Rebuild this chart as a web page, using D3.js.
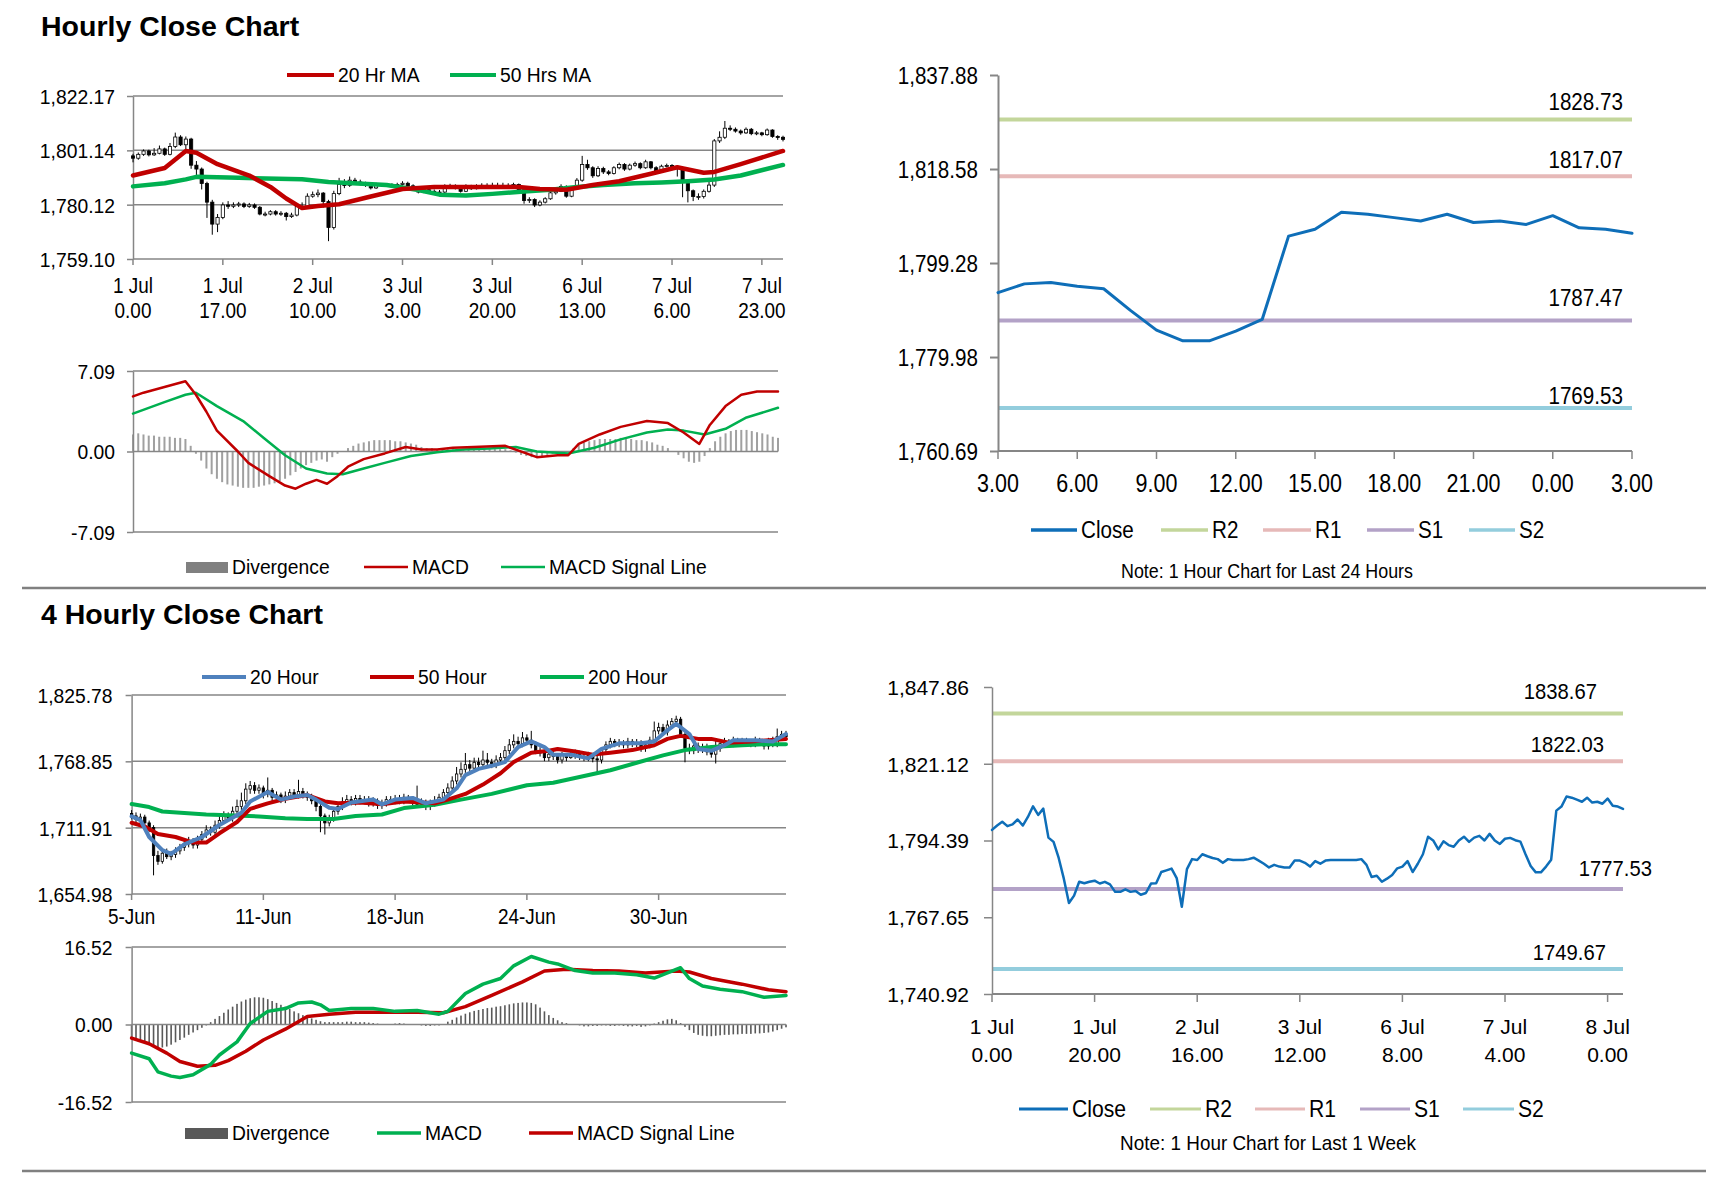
<!DOCTYPE html>
<html>
<head>
<meta charset="utf-8">
<script src="https://cdn.jsdelivr.net/npm/d3@7"></script>
<style>
  body { margin: 0; background: #fff; }
  text { font-family: "Liberation Sans", Arial, sans-serif; fill: #000; }
</style>
</head>
<body>
<svg id="chart" width="1711" height="1178"></svg>
<script>
// ---------- hourly bars, 1 Jul 0.00 .. 8 Jul 3.00 ----------
var hourOpen = [1799.0,1798.1,1799.6,1800.9,1799.4,1800.0,1801.7,1799.6,1802.6,1806.3,
1803.3,1805.5,1795.4,1793.9,1788.3,1781.1,1772.6,1775.2,1780.0,1779.5,
1780.0,1780.4,1779.4,1780.0,1779.1,1776.5,1776.5,1777.4,1776.5,1776.8,
1775.5,1776.1,1779.4,1779.5,1783.4,1784.0,1784.6,1781.3,1771.3,1784.4,
1787.9,1787.6,1789.6,1788.9,1788.3,1787.9,1786.6,1787.9,1787.6,1787.6,
1787.6,1787.9,1788.4,1787.4,1786.3,1785.0,1785.9,1785.3,1785.0,1785.0,
1787.4,1787.4,1786.6,1785.3,1787.2,1786.3,1787.4,1787.6,1787.6,1787.6,
1787.6,1787.6,1787.6,1787.9,1785.9,1781.7,1782.1,1780.0,1781.1,1782.4,
1784.7,1785.3,1787.2,1783.4,1786.3,1789.6,1795.7,1794.4,1791.3,1794.1,
1792.8,1792.2,1794.4,1795.7,1793.9,1795.4,1796.0,1794.4,1796.7,1794.4,
1793.2,1795.0,1795.3,1794.5,1794.0,1789.6,1785.5,1783.3,1783.3,1785.3,
1787.7,1804.8,1806.2,1809.7,1809.3,1808.6,1807.9,1809.3,1807.6,1807.9,
1807.2,1809.0,1806.5,1806.2];
var hourHigh = [1799.8,1800.3,1801.5,1801.4,1802.0,1803.0,1802.2,1804.0,1808.0,1807.0,
1806.5,1806.0,1797.0,1794.5,1789.0,1782.0,1776.5,1781.0,1781.5,1781.0,
1781.2,1781.0,1780.8,1780.6,1779.6,1777.4,1778.0,1778.0,1777.6,1777.3,
1777.0,1780.0,1781.0,1784.5,1785.2,1786.0,1785.0,1782.0,1785.5,1790.5,
1790.0,1791.0,1790.5,1789.8,1789.0,1788.5,1788.6,1788.5,1788.3,1788.4,
1788.6,1789.2,1789.0,1788.0,1786.8,1786.6,1786.5,1786.0,1785.8,1788.0,
1788.2,1788.0,1787.0,1788.0,1787.8,1788.0,1788.4,1788.4,1788.6,1788.6,
1788.6,1788.4,1788.6,1788.3,1786.3,1783.0,1782.6,1781.8,1783.0,1785.4,
1786.5,1788.0,1787.6,1787.0,1790.4,1799.0,1797.5,1795.0,1795.0,1794.8,
1793.5,1795.0,1796.4,1796.2,1796.0,1796.8,1796.5,1797.5,1797.0,1795.0,
1795.6,1796.0,1795.8,1795.0,1794.5,1790.0,1786.0,1784.5,1786.0,1789.5,
1805.5,1808.5,1812.5,1810.8,1810.0,1809.2,1810.0,1809.8,1808.6,1808.3,
1809.6,1809.3,1807.0,1806.8];
var hourLow = [1796.5,1797.5,1799.0,1798.8,1799.0,1799.6,1799.0,1799.2,1802.0,1802.8,
1801.0,1794.0,1790.5,1786.0,1775.0,1768.5,1769.5,1774.5,1778.5,1778.8,
1779.2,1778.8,1778.9,1778.5,1776.0,1775.6,1776.0,1775.9,1775.8,1774.0,
1775.0,1775.6,1778.6,1779.0,1782.8,1783.0,1779.0,1766.0,1770.5,1783.8,
1786.5,1787.0,1788.0,1787.6,1787.0,1786.0,1786.2,1787.0,1787.0,1786.9,
1787.1,1787.5,1786.8,1785.8,1784.5,1784.6,1784.8,1784.4,1784.3,1784.6,
1786.8,1786.0,1784.8,1785.0,1785.8,1786.0,1787.0,1787.0,1787.0,1787.0,
1787.0,1787.0,1787.0,1785.0,1780.5,1780.8,1779.2,1779.5,1780.6,1782.0,
1784.0,1785.0,1782.8,1783.0,1786.0,1789.0,1793.6,1790.5,1790.8,1792.0,
1791.5,1791.8,1793.8,1793.2,1793.4,1794.8,1793.8,1794.0,1793.8,1792.5,
1792.8,1794.5,1794.0,1791.0,1783.0,1781.0,1781.5,1782.0,1782.5,1784.8,
1787.0,1804.0,1805.5,1808.6,1808.0,1807.2,1807.5,1807.0,1807.0,1806.6,
1806.8,1806.0,1805.2,1804.6];
var hourClose = [1798.1,1799.6,1800.9,1799.4,1800.0,1801.7,1799.6,1802.6,1806.3,1803.3,
1805.5,1795.4,1793.9,1788.3,1781.1,1772.6,1775.2,1780.0,1779.5,1780.0,
1780.4,1779.4,1780.0,1779.1,1776.5,1776.5,1777.4,1776.5,1776.8,1775.5,
1776.1,1779.4,1779.5,1783.4,1784.0,1784.6,1781.3,1771.3,1784.4,1787.9,
1787.6,1789.6,1788.9,1788.3,1787.9,1786.6,1787.9,1787.6,1787.6,1787.6,
1787.9,1788.4,1787.4,1786.3,1785.0,1785.9,1785.3,1785.0,1785.0,1787.4,
1787.4,1786.6,1785.3,1787.2,1786.3,1787.4,1787.6,1787.6,1787.6,1787.6,
1787.6,1787.6,1787.9,1785.9,1781.7,1782.1,1780.0,1781.1,1782.4,1784.7,
1785.3,1787.2,1783.4,1786.3,1789.6,1795.7,1794.4,1791.3,1794.1,1792.8,
1792.2,1794.4,1795.7,1793.9,1795.4,1796.0,1794.4,1796.7,1794.4,1793.2,
1795.0,1795.3,1794.5,1794.0,1789.6,1785.5,1783.3,1783.3,1785.3,1787.7,
1804.8,1806.2,1809.7,1809.3,1808.6,1807.9,1809.3,1807.6,1807.9,1807.2,
1809.0,1806.5,1806.2,1805.4];

// moving averages: [bar index, value]
var hourMa20 = [[0,1791.4],[6,1794.3],[10,1800.9],[12,1800.2],[16,1795.8],[22,1791.4],[26,1787.0],[29,1782.5],[32,1778.8],[35,1779.6],[39,1780.3],[45,1783.3],[51,1786.2],[57,1787.0],[66,1787.0],[73,1787.0],[77,1786.2],[82,1785.9],[87,1787.7],[92,1789.2],[98,1792.1],[103,1794.6],[108,1792.5],[110,1792.8],[115,1795.8],[123,1800.9]];
var hourMa50 = [[0,1787.2],[6,1788.4],[10,1789.9],[12,1790.9],[20,1790.5],[32,1790.0],[37,1788.9],[48,1787.7],[54,1785.8],[58,1784.0],[63,1783.7],[68,1784.3],[74,1785.2],[79,1785.9],[84,1787.0],[89,1787.7],[95,1788.4],[100,1788.7],[105,1789.2],[110,1789.9],[115,1791.4],[123,1795.5]];
var hourMacd = [[0,4.85],[2,5.18],[6,5.68],[10,6.19],[12,5.0],[14,3.5],[16,1.84],[20,0],[22,-1.0],[26,-2.17],[29,-3.0],[31,-3.28],[33,-2.84],[35,-2.5],[37,-2.84],[39,-2.17],[41,-1.34],[44,-0.67],[48,-0.17],[52,0.4],[55,0.17],[58,0.17],[61,0.33],[65,0.4],[71,0.5],[75,-0.17],[77,-0.5],[81,-0.33],[83,-0.33],[85,0.67],[89,1.5],[93,2.17],[98,2.68],[102,2.5],[105,1.67],[108,0.67],[110,2.34],[113,4.0],[116,5.0],[119,5.28],[123,5.28]];
var hourSignal = [[0,3.34],[6,4.35],[10,5.0],[12,5.18],[16,4.0],[21,2.68],[25,1.17],[29,-0.33],[33,-1.5],[37,-1.94],[40,-2.0],[44,-1.5],[48,-1.0],[53,-0.4],[58,-0.07],[63,0.17],[68,0.27],[73,0.4],[77,0],[83,-0.17],[88,0.33],[93,1.07],[98,1.67],[102,1.94],[105,1.84],[109,1.5],[113,2.0],[117,3.0],[123,3.85]];
var hourDiv = [1.5,1.6,1.5,1.4,1.4,1.3,1.3,1.3,1.2,1.2,
1.1,0.5,-0.2,-0.8,-1.5,-2.0,-2.4,-2.7,-2.9,-3.0,
-3.1,-3.2,-3.2,-3.2,-3.1,-3.0,-2.9,-2.8,-2.6,-2.4,
-2.1,-1.8,-1.5,-1.2,-1.0,-0.8,-0.7,-0.9,-0.5,-0.2,
0.0,0.3,0.5,0.7,0.8,0.9,1.0,1.0,1.0,1.0,
0.9,0.9,0.8,0.7,0.6,0.4,0.3,0.3,0.2,0.2,
0.2,0.2,0.2,0.2,0.2,0.2,0.2,0.2,0.2,0.2,
0.2,0.2,0.1,-0.1,-0.3,-0.4,-0.5,-0.5,-0.4,-0.3,
-0.2,-0.1,-0.2,0.0,0.3,0.6,0.8,0.9,1.0,1.1,
1.1,1.1,1.1,1.2,1.2,1.1,1.0,1.0,0.9,0.8,
0.6,0.5,0.3,0.0,-0.3,-0.6,-0.9,-1.0,-0.9,-0.4,
0.3,0.9,1.3,1.6,1.8,1.9,1.9,1.9,1.8,1.7,
1.6,1.5,1.3,1.2];
var hourTicks = [["1 Jul","0.00"],["1 Jul","17.00"],["2 Jul","10.00"],["3 Jul","3.00"],["3 Jul","20.00"],["6 Jul","13.00"],["7 Jul","6.00"],["7 Jul","23.00"]];
var hourPriceTicks = [1759.10, 1780.12, 1801.14, 1822.17];
var hourMacdTicks = [-7.09, 0, 7.09];

// ---------- last 24 hours / last week ----------
var dayFrom = 99; // 7 Jul 3.00
var dayTicks = ["3.00","6.00","9.00","12.00","15.00","18.00","21.00","0.00","3.00"];
var dayPriceTicks = [1760.69, 1779.98, 1799.28, 1818.58, 1837.88];
var dayPivots = [1828.73, 1817.07, 1787.47, 1769.53];
var weekTicks = [["1 Jul","0.00"],["1 Jul","20.00"],["2 Jul","16.00"],["3 Jul","12.00"],["6 Jul","8.00"],["7 Jul","4.00"],["8 Jul","0.00"]];
var weekPriceTicks = [1740.92, 1767.65, 1794.39, 1821.12, 1847.86];
var weekPivots = [1838.67, 1822.03, 1777.53, 1749.67];
var pivotNames = ["R2", "R1", "S1", "S2"];

// ---------- 4 hourly bars, 5 Jun .. 7 Jul ----------
var fourOpen = [1724,1722,1719,1721,1716,1712,1688,1683,1690,1687,
1689,1692,1695,1698,1700,1697,1702,1706,1710,1708,
1714,1718,1722,1720,1726,1730,1735,1745,1748,1744,
1746,1741,1744,1738,1740,1736,1739,1742,1740,1743,
1740,1738,1735,1730,1722,1716,1720,1726,1730,1734,
1736,1734,1737,1735,1736,1733,1735,1731,1733,1736,
1735,1737,1735,1738,1736,1734,1732,1734,1730,1733,
1735,1738,1742,1746,1752,1758,1762,1766,1763,1768,
1766,1770,1768,1766,1770,1772,1778,1783,1786,1784,
1789,1787,1783,1778,1776,1772,1775,1773,1770,1774,
1772,1774,1776,1773,1772,1774,1771,1770,1779,1783,
1786,1784,1785,1783,1786,1784,1785,1780,1783,1787,
1795,1798,1794,1800,1803,1805,1792,1780,1778,1782,
1779,1781,1777,1775,1780,1784,1786,1784,1787,1785,
1786,1786,1784,1787,1785,1782,1786,1784,1790,1792];
var fourHigh = [1727,1725,1724,1723,1718,1714,1692,1693,1694,1692,
1695,1698,1701,1704,1703,1705,1709,1714,1713,1718,
1722,1726,1725,1730,1736,1742,1750,1752,1751,1749,
1748,1755,1746,1743,1742,1743,1745,1745,1753,1746,
1743,1741,1738,1733,1724,1723,1729,1733,1738,1740,
1739,1740,1740,1739,1739,1738,1737,1736,1739,1739,
1740,1740,1741,1740,1739,1748,1737,1736,1736,1739,
1741,1745,1750,1756,1764,1768,1776,1770,1772,1772,
1778,1776,1771,1774,1776,1782,1788,1792,1790,1794,
1792,1795,1786,1781,1779,1778,1778,1776,1777,1776,
1777,1779,1778,1776,1777,1776,1774,1781,1786,1789,
1788,1788,1787,1789,1788,1788,1787,1786,1790,1803,
1802,1801,1804,1806,1808,1807,1794,1784,1786,1785,
1784,1784,1780,1788,1787,1789,1788,1790,1789,1789,
1789,1788,1790,1789,1788,1789,1790,1797,1795,1795];
var fourLow = [1719,1716,1716,1713,1708,1671,1680,1681,1685,1684,
1686,1689,1692,1695,1694,1694,1699,1703,1705,1705,
1711,1715,1717,1717,1723,1727,1732,1741,1741,1741,
1737,1738,1734,1735,1733,1733,1736,1737,1737,1737,
1735,1732,1726,1708,1706,1713,1717,1723,1727,1731,
1731,1731,1732,1732,1730,1730,1728,1728,1730,1732,
1732,1732,1732,1733,1731,1729,1729,1727,1727,1730,
1732,1735,1739,1743,1749,1755,1759,1760,1760,1763,
1763,1765,1763,1763,1767,1769,1775,1780,1781,1781,
1784,1780,1775,1773,1769,1769,1770,1767,1767,1769,
1771,1771,1770,1769,1769,1768,1759,1767,1776,1780,
1781,1781,1780,1780,1781,1781,1777,1777,1780,1784,
1792,1791,1791,1797,1800,1789,1768,1775,1775,1776,
1776,1774,1772,1767,1777,1781,1781,1781,1782,1782,
1783,1781,1781,1782,1779,1779,1781,1781,1787,1787];
var fourClose = [1722,1719,1721,1716,1712,1688,1683,1690,1687,1689,
1692,1695,1698,1700,1697,1702,1706,1710,1708,1714,
1718,1722,1720,1726,1730,1735,1745,1748,1744,1746,
1741,1744,1738,1740,1736,1739,1742,1740,1743,1740,
1738,1735,1730,1722,1716,1720,1726,1730,1734,1736,
1734,1737,1735,1736,1733,1735,1731,1733,1736,1735,
1737,1735,1738,1736,1734,1732,1734,1730,1733,1735,
1738,1742,1746,1752,1758,1762,1766,1763,1768,1766,
1770,1768,1766,1770,1772,1778,1783,1786,1784,1789,
1787,1783,1778,1776,1772,1775,1773,1770,1774,1772,
1774,1776,1773,1772,1774,1771,1770,1779,1783,1786,
1784,1785,1783,1786,1784,1785,1780,1783,1787,1795,
1798,1794,1800,1803,1805,1792,1780,1778,1782,1779,
1781,1777,1775,1780,1784,1786,1784,1787,1785,1786,
1786,1784,1787,1785,1782,1786,1784,1790,1792,1790];
var fourMa20 = [[0,1721.6],[2,1718.4],[4,1703.9],[7,1692.6],[9,1689.4],[12,1697.5],[16,1703.9],[20,1714.2],[25,1724.8],[27,1734.4],[31,1742.5],[34,1736.0],[37,1738.6],[40,1739.9],[42,1736.0],[45,1729.0],[47,1728.0],[50,1733.5],[55,1736.0],[57,1731.9],[60,1736.0],[64,1737.4],[67,1732.8],[71,1736.0],[74,1745.7],[76,1757.0],[79,1762.4],[82,1765.0],[85,1768.2],[88,1781.1],[91,1785.9],[94,1781.1],[96,1774.6],[100,1774.6],[104,1771.4],[107,1779.5],[111,1784.3],[116,1784.3],[119,1785.9],[122,1795.5],[124,1801.0],[127,1792.3],[129,1779.5],[132,1777.9],[135,1782.7],[137,1786.9],[142,1786.9],[146,1785.9],[149,1792.3]];
var fourMa50 = [[0,1716.1],[3,1712.9],[6,1706.5],[10,1703.9],[14,1699.1],[17,1699.1],[20,1707.1],[24,1716.8],[27,1728.0],[31,1732.8],[35,1736.7],[40,1739.9],[44,1734.4],[47,1732.8],[52,1733.5],[57,1731.9],[62,1734.4],[69,1732.8],[72,1736.0],[76,1740.9],[80,1748.9],[84,1758.6],[87,1768.2],[91,1776.3],[95,1777.9],[97,1779.5],[101,1777.2],[105,1774.6],[109,1776.3],[114,1778.5],[119,1782.7],[122,1788.1],[125,1790.7],[129,1788.1],[132,1788.1],[136,1784.9],[141,1785.9],[145,1786.9],[149,1788.1]];
var fourMa200 = [[0,1732.2],[4,1729.6],[7,1725.8],[12,1724.5],[17,1723.2],[22,1722.5],[29,1721.6],[35,1719.9],[40,1719.3],[46,1719.3],[51,1721.9],[57,1723.2],[62,1728.7],[69,1731.6],[75,1736.0],[82,1740.9],[90,1748.3],[96,1750.5],[102,1755.4],[109,1761.2],[115,1767.6],[121,1774.0],[126,1778.5],[132,1781.1],[139,1782.7],[145,1783.6],[149,1783.6]];
var fourMacd = [[0,-6.1],[4,-7.3],[6,-10.1],[9,-11.0],[11,-11.3],[14,-10.7],[18,-8.5],[20,-6.5],[24,-3.7],[27,0.2],[31,2.8],[35,3.4],[38,4.6],[41,4.8],[43,4.2],[45,3.0],[50,3.4],[55,3.4],[60,2.8],[65,3.0],[70,2.2],[72,2.8],[76,6.6],[80,8.6],[84,9.8],[87,12.5],[91,14.5],[95,13.3],[97,12.9],[101,11.5],[105,11.0],[110,11.0],[115,10.6],[119,9.9],[122,11.0],[125,12.1],[127,9.8],[130,8.2],[134,7.5],[139,7.0],[144,5.8],[149,6.2]];
var fourSignal = [[0,-2.9],[4,-4.1],[8,-6.1],[11,-7.9],[15,-8.9],[19,-8.7],[22,-7.7],[26,-5.7],[30,-3.3],[35,-1.0],[40,1.7],[45,2.2],[51,2.6],[57,2.6],[65,2.6],[71,2.5],[76,3.8],[82,6.2],[89,9.1],[94,11.4],[99,11.8],[105,11.5],[111,11.4],[117,11.0],[124,11.4],[127,11.2],[132,9.8],[139,8.6],[145,7.4],[149,7.0]];
var fourDiv = [-3.0,-3.3,-3.6,-4.0,-4.4,-4.8,-5.0,-4.9,-4.7,-4.3,
-3.8,-3.3,-2.8,-2.2,-1.7,-1.2,-0.7,-0.2,0.5,1.2,
1.8,2.5,3.2,3.8,4.4,4.9,5.3,5.6,5.8,5.8,
5.7,5.4,5.0,4.6,4.2,3.8,3.3,2.8,2.4,2.0,
1.6,1.3,1.0,0.7,0.5,0.5,0.5,0.5,0.5,0.6,
0.6,0.5,0.5,0.5,0.4,0.3,0.2,0.1,0.0,0.1,
0.2,0.3,0.2,0.1,0.0,-0.1,-0.2,-0.3,-0.3,-0.2,
-0.2,0.1,0.6,1.0,1.5,1.9,2.3,2.6,2.9,3.1,
3.3,3.5,3.6,3.8,3.9,4.1,4.3,4.5,4.6,4.7,
4.7,4.6,4.3,3.6,2.8,2.0,1.4,0.9,0.5,0.3,
0.1,0.0,-0.2,-0.4,-0.4,-0.3,-0.3,-0.2,-0.2,-0.3,
-0.3,-0.2,-0.3,-0.4,-0.4,-0.3,-0.5,-0.4,-0.2,0.2,
0.5,0.8,1.1,1.2,0.9,0.3,-0.5,-1.2,-1.8,-2.2,
-2.4,-2.5,-2.5,-2.4,-2.3,-2.2,-2.2,-2.1,-2.1,-2.0,
-2.0,-2.0,-1.9,-1.9,-1.8,-1.7,-1.5,-1.2,-0.9,-0.6];
var fourTicks = ["5-Jun", "11-Jun", "18-Jun", "24-Jun", "30-Jun"];
var fourPriceTicks = [1654.98, 1711.91, 1768.85, 1825.78];
var fourMacdTicks = [-16.52, 0, 16.52];

// ---------- drawing ----------
var AXIS = "#868686", RED = "#C00000", GREEN = "#00B050", BLUE = "#4F81BD", CLOSE = "#0E6EB8";
var PIVOT = ["#C3D69B", "#E6B9B8", "#B3A2C7", "#93CDDD"];
var svg = d3.select("#chart");
// plain hyphen for negatives, like the original
var fmt2 = d3.formatLocale({decimal: ".", thousands: ",", grouping: [3], currency: ["", ""], minus: "-"}).format(",.2f");

function label(g, x, y, s, size, o) {
  o = o || {};
  return g.append("text")
    .attr("transform", "translate(" + x + "," + y + ") scale(" + (o.sx || 1) + ",1)")
    .attr("font-size", size)
    .attr("text-anchor", o.anchor || "start")
    .attr("font-weight", o.bold ? "bold" : "normal")
    .text(s);
}

function hline(g, x1, x2, y, color, w) {
  g.append("line").attr("x1", x1).attr("x2", x2).attr("y1", y).attr("y2", y)
    .attr("stroke", color).attr("stroke-width", w);
}

function yAxis(g, y, x0, vals, o) {
  var ax = g.append("g").attr("transform", "translate(" + x0 + ",0)")
    .call(d3.axisLeft(y).tickValues(vals).tickFormat(fmt2).tickSize(o.tick).tickSizeOuter(0));
  ax.select(".domain").attr("stroke", AXIS).attr("stroke-width", o.w || 1.5);
  ax.selectAll(".tick line").attr("stroke", AXIS).attr("stroke-width", o.w || 1.5);
  ax.selectAll(".tick text").attr("x", 0).attr("dy", null)
    .attr("font-size", o.size).attr("font-family", null).attr("fill", "#000")
    .attr("transform", "translate(" + (-o.gap) + "," + (o.size * 0.35) + ") scale(" + o.sx + ",1)");
  return ax;
}

function xTicks(g, x, idx, yb, len) {
  g.selectAll(null).data(idx).join("line")
    .attr("x1", d => x(d)).attr("x2", d => x(d))
    .attr("y1", yb).attr("y2", yb + len)
    .attr("stroke", AXIS).attr("stroke-width", 1.5);
}

function legendLine(g, x1, x2, y, color, w, s, size, sx) {
  hline(g, x1, x2, y, color, w);
  label(g, x2 + 4, y + size * 0.35, s, size, {sx: sx});
}

function candles(g, x, y, o, h, l, c, bw) {
  var idx = d3.range(c.length);
  g.selectAll(null).data(idx).join("line")
    .attr("x1", i => x(i)).attr("x2", i => x(i))
    .attr("y1", i => y(h[i])).attr("y2", i => y(l[i]))
    .attr("stroke", "#000").attr("stroke-width", 1);
  g.selectAll(null).data(idx).join("rect")
    .attr("x", i => x(i) - bw / 2)
    .attr("width", bw)
    .attr("y", i => y(Math.max(o[i], c[i])))
    .attr("height", i => Math.max(1, Math.abs(y(o[i]) - y(c[i]))))
    .attr("fill", i => c[i] >= o[i] ? "#fff" : "#000")
    .attr("stroke", "#000").attr("stroke-width", 0.8);
}

function pathLine(g, x, y, pts, color, w) {
  g.append("path").datum(pts)
    .attr("d", d3.line().x(d => x(d[0])).y(d => y(d[1])))
    .attr("fill", "none").attr("stroke", color).attr("stroke-width", w)
    .attr("stroke-linejoin", "round").attr("stroke-linecap", "round");
}

function divBars(g, x, y, vals, color, w) {
  g.selectAll(null).data(vals).join("rect")
    .attr("x", (d, i) => x(i) - w / 2).attr("width", w)
    .attr("y", d => Math.min(y(d), y(0)))
    .attr("height", d => Math.abs(y(d) - y(0)))
    .attr("fill", color);
}

// ===== top-left: hourly close chart =====
var tl = svg.append("g");
label(tl, 41, 36, "Hourly Close Chart", 28.5, {bold: true});
legendLine(tl, 287, 334, 75, RED, 4, "20 Hr MA", 21, 0.92);
legendLine(tl, 450, 496, 75, GREEN, 4, "50 Hrs MA", 21, 0.92);

var hx = d3.scaleLinear().domain([0, hourClose.length - 1]).range([133, 783]);
var hy = d3.scaleLinear().domain([hourPriceTicks[0], hourPriceTicks[3]]).range([259, 96]);
hourPriceTicks.slice(1).forEach(v => hline(tl, 133, 783, hy(v), AXIS, 1.5));
hline(tl, 133, 783, 259, AXIS, 1.5);
yAxis(tl, hy, 133, hourPriceTicks, {tick: 6, gap: 18, size: 21, sx: 0.92});
var hTickIdx = hourTicks.map((t, k) => k * 17);
xTicks(tl, hx, hTickIdx, 259, 6);
hourTicks.forEach((t, k) => {
  label(tl, hx(hTickIdx[k]), 293, t[0], 21.5, {anchor: "middle", sx: 0.88});
  label(tl, hx(hTickIdx[k]), 318, t[1], 21.5, {anchor: "middle", sx: 0.88});
});
candles(tl, hx, hy, hourOpen, hourHigh, hourLow, hourClose, 3.2);
pathLine(tl, hx, hy, hourMa50, GREEN, 4.5);
pathLine(tl, hx, hy, hourMa20, RED, 4.5);

// hourly MACD
var hmx = d3.scaleLinear().domain([0, hourClose.length - 1]).range([133, 778]);
var hmy = d3.scaleLinear().domain([-7.09, 7.09]).range([532, 371]);
hline(tl, 133, 778, hmy(7.09), AXIS, 1.5);
hline(tl, 133, 778, hmy(-7.09), AXIS, 1.5);
divBars(tl, hmx, hmy, hourDiv, "#A0A0A0", 2);
hline(tl, 133, 778, hmy(0), AXIS, 1.5);
yAxis(tl, hmy, 133, hourMacdTicks, {tick: 6, gap: 18, size: 21, sx: 0.92});
pathLine(tl, hmx, hmy, hourSignal, GREEN, 2.5);
pathLine(tl, hmx, hmy, hourMacd, RED, 2.5);
tl.append("rect").attr("x", 186).attr("y", 562).attr("width", 42).attr("height", 11).attr("fill", "#808080");
label(tl, 232, 567 + 7.4, "Divergence", 21, {sx: 0.92});
legendLine(tl, 364, 408, 567, RED, 2.5, "MACD", 21, 0.92);
legendLine(tl, 501, 545, 567, GREEN, 2.5, "MACD Signal Line", 21, 0.92);

// ===== top-right: last 24 hours =====
var tr = svg.append("g");
var dayClose = hourClose.slice(dayFrom);
var dx = d3.scaleLinear().domain([0, dayClose.length - 1]).range([998, 1632]);
var dy = d3.scaleLinear().domain([dayPriceTicks[0], dayPriceTicks[4]]).range([451, 75]);
var dayLabelDy = [-10, -8, -14.5, -3.5];
dayPivots.forEach((v, k) => {
  hline(tr, 998, 1632, dy(v), PIVOT[k], 4);
  label(tr, 1623, dy(v) + dayLabelDy[k], v.toFixed(2), 24, {anchor: "end", sx: 0.86});
});
hline(tr, 998, 1632, 451, AXIS, 2);
yAxis(tr, dy, 998, dayPriceTicks, {tick: 8, gap: 20, size: 24, sx: 0.86, w: 2});
var dTickIdx = dayTicks.map((t, k) => k * 3);
xTicks(tr, dx, dTickIdx, 451, 8);
dayTicks.forEach((t, k) => label(tr, dx(dTickIdx[k]), 492, t, 25, {anchor: "middle", sx: 0.86}));
pathLine(tr, dx, dy, dayClose.map((v, i) => [i, v]), CLOSE, 3);
legendLine(tr, 1031, 1077, 530, CLOSE, 3.5, "Close", 24, 0.86);
legendLine(tr, 1161, 1208, 530, PIVOT[0], 3.5, "R2", 24, 0.86);
legendLine(tr, 1263, 1311, 530, PIVOT[1], 3.5, "R1", 24, 0.86);
legendLine(tr, 1367, 1414, 530, PIVOT[2], 3.5, "S1", 24, 0.86);
legendLine(tr, 1469, 1515, 530, PIVOT[3], 3.5, "S2", 24, 0.86);
label(tr, 1267, 578, "Note: 1 Hour Chart for Last 24 Hours", 20.8, {anchor: "middle", sx: 0.86});

// separators
hline(svg, 22, 1706, 588, "#808080", 2.5);
hline(svg, 22, 1706, 1171, "#808080", 2.5);

// ===== bottom-left: 4 hourly close chart =====
var bl = svg.append("g");
label(bl, 41, 624, "4 Hourly Close Chart", 28.5, {bold: true});
legendLine(bl, 202, 246, 677, BLUE, 4, "20 Hour", 21, 0.92);
legendLine(bl, 370, 414, 677, RED, 4, "50 Hour", 21, 0.92);
legendLine(bl, 540, 584, 677, GREEN, 4, "200 Hour", 21, 0.92);

var fx = d3.scaleLinear().domain([0, fourClose.length - 1]).range([131.6, 786]);
var fy = d3.scaleLinear().domain([fourPriceTicks[0], fourPriceTicks[3]]).range([894, 695]);
fourPriceTicks.slice(1).forEach(v => hline(bl, 131.6, 786, fy(v), AXIS, 1.5));
hline(bl, 131.6, 786, 894, AXIS, 1.5);
yAxis(bl, fy, 131.6, fourPriceTicks, {tick: 6, gap: 19, size: 21, sx: 0.92});
var fTickIdx = fourTicks.map((t, k) => k * 30);
xTicks(bl, fx, fTickIdx, 894, 6);
fourTicks.forEach((t, k) => label(bl, fx(fTickIdx[k]), 924, t, 21.5, {anchor: "middle", sx: 0.88}));
candles(bl, fx, fy, fourOpen, fourHigh, fourLow, fourClose, 2.4);
pathLine(bl, fx, fy, fourMa200, GREEN, 4);
pathLine(bl, fx, fy, fourMa50, RED, 4);
pathLine(bl, fx, fy, fourMa20, BLUE, 4);

var fmy = d3.scaleLinear().domain([-16.52, 16.52]).range([1102, 947]);
hline(bl, 131.6, 786, fmy(16.52), AXIS, 1.5);
hline(bl, 131.6, 786, fmy(-16.52), AXIS, 1.5);
divBars(bl, fx, fmy, fourDiv, "#595959", 1.6);
hline(bl, 131.6, 786, fmy(0), AXIS, 1.5);
yAxis(bl, fmy, 131.6, fourMacdTicks, {tick: 6, gap: 19, size: 21, sx: 0.92});
pathLine(bl, fx, fmy, fourSignal, RED, 3.5);
pathLine(bl, fx, fmy, fourMacd, GREEN, 3.5);
bl.append("rect").attr("x", 185).attr("y", 1128).attr("width", 43).attr("height", 11).attr("fill", "#595959");
label(bl, 232, 1133 + 7.4, "Divergence", 21, {sx: 0.92});
legendLine(bl, 377, 421, 1133, GREEN, 3.5, "MACD", 21, 0.92);
legendLine(bl, 529, 573, 1133, RED, 3.5, "MACD Signal Line", 21, 0.92);

// ===== bottom-right: last week =====
var br = svg.append("g");
var wx = d3.scaleLinear().domain([0, hourClose.length - 1]).range([992, 1623]);
var wy = d3.scaleLinear().domain([weekPriceTicks[0], weekPriceTicks[4]]).range([994, 687]);
var weekLabelDx = [1597, 1604, 1652, 1606];
var weekLabelDy = [-14, -9, -13, -9];
weekPivots.forEach((v, k) => {
  hline(br, 992, 1623, wy(v), PIVOT[k], 4);
  label(br, weekLabelDx[k], wy(v) + weekLabelDy[k], v.toFixed(2), 22, {anchor: "end", sx: 0.92});
});
hline(br, 992, 1623, 994, AXIS, 2);
yAxis(br, wy, 992, weekPriceTicks, {tick: 8, gap: 23, size: 21, sx: 1});
var wTickIdx = weekTicks.map((t, k) => k * 20);
xTicks(br, wx, wTickIdx, 994, 8);
weekTicks.forEach((t, k) => {
  label(br, wx(wTickIdx[k]), 1034, t[0], 21, {anchor: "middle", sx: 1});
  label(br, wx(wTickIdx[k]), 1062, t[1], 21, {anchor: "middle", sx: 1});
});
pathLine(br, wx, wy, hourClose.map((v, i) => [i, v]), CLOSE, 2.5);
legendLine(br, 1019, 1068, 1109, CLOSE, 3, "Close", 23, 0.92);
legendLine(br, 1150, 1201, 1109, PIVOT[0], 3, "R2", 23, 0.92);
legendLine(br, 1255, 1305, 1109, PIVOT[1], 3, "R1", 23, 0.92);
legendLine(br, 1360, 1410, 1109, PIVOT[2], 3, "S1", 23, 0.92);
legendLine(br, 1463, 1514, 1109, PIVOT[3], 3, "S2", 23, 0.92);
label(br, 1268, 1150, "Note: 1 Hour Chart for Last 1 Week", 21, {anchor: "middle", sx: 0.9});
</script>
</body>
</html>
